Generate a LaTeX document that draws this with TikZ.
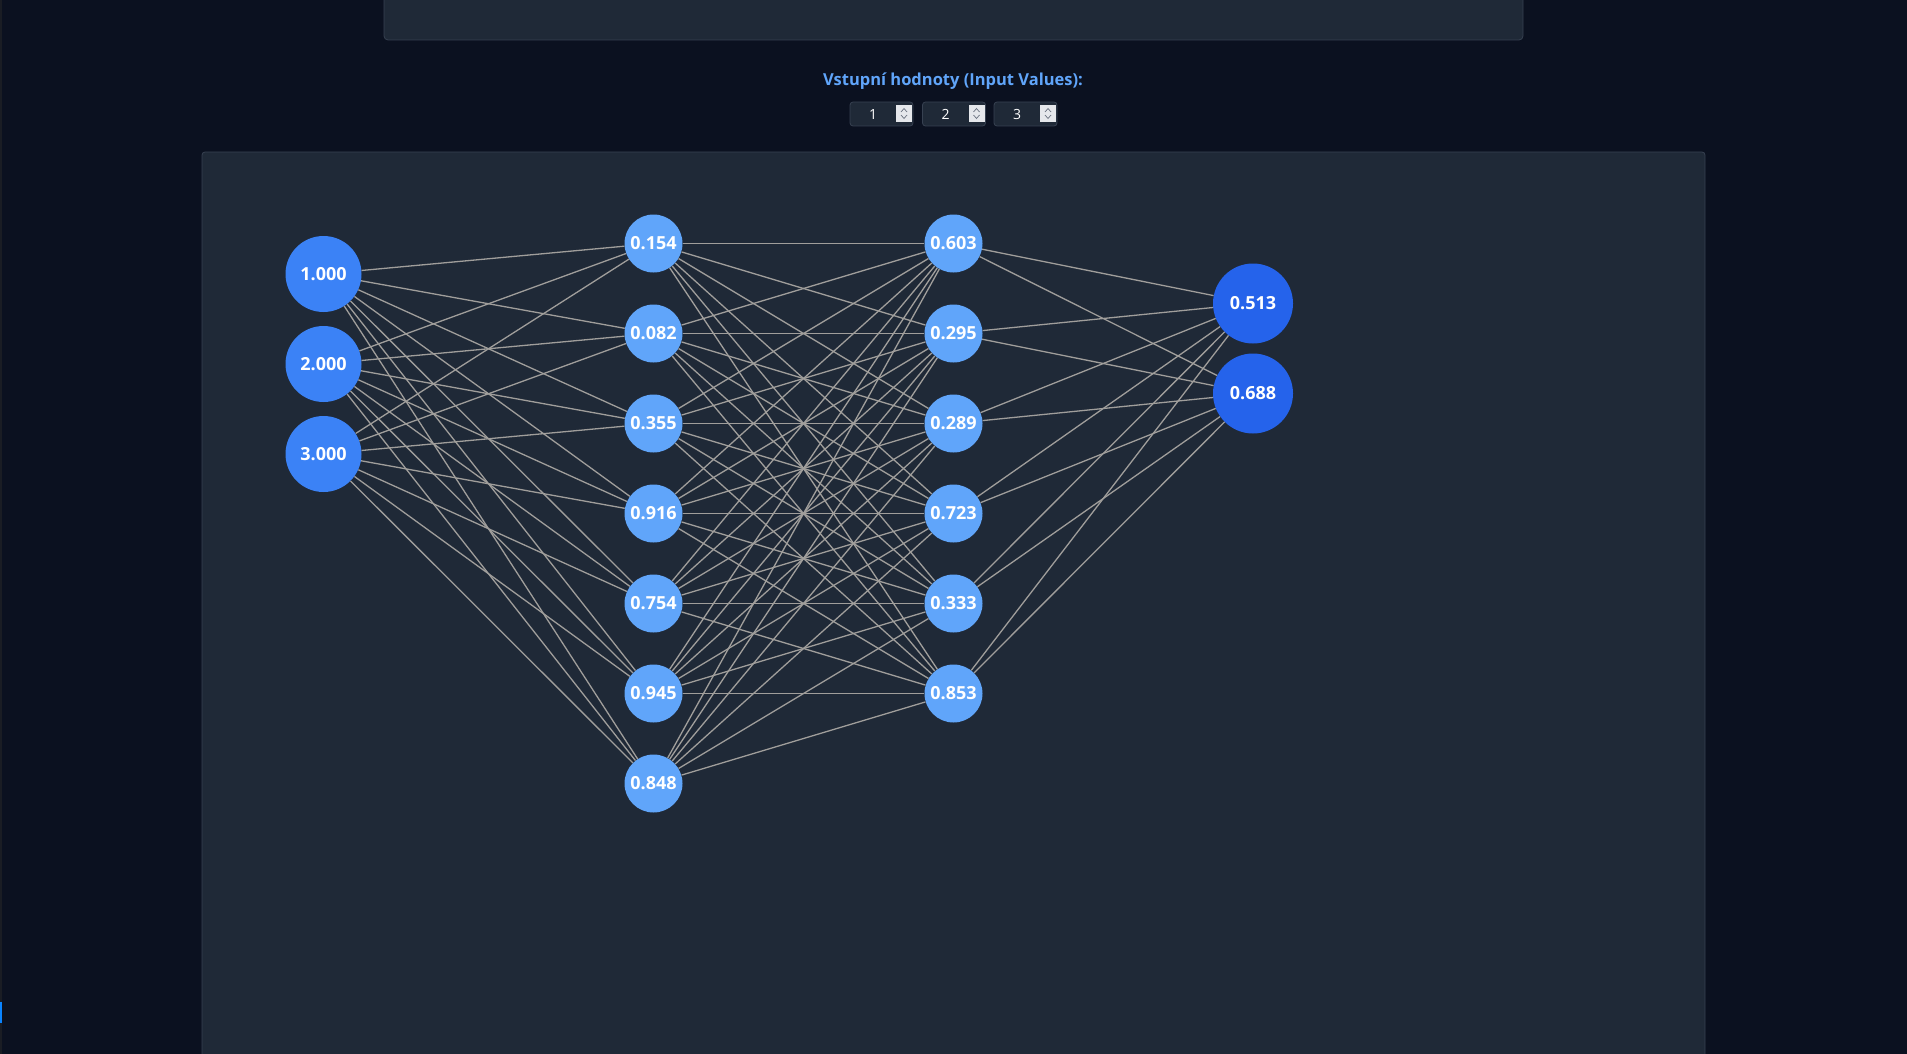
\documentclass[tikz,border=0pt]{standalone}
\usepackage{fontspec}
\setmainfont{Open Sans}
\definecolor{bg}{HTML}{0B1120}
\definecolor{panel}{HTML}{1F2937}
\definecolor{pborder}{HTML}{374151}
\definecolor{inc}{HTML}{3B82F6}
\definecolor{hidc}{HTML}{60A5FA}
\definecolor{outc}{HTML}{2563EB}
\definecolor{edgec}{HTML}{A09E9B}
\definecolor{titlec}{HTML}{60A5FA}
\definecolor{spin}{HTML}{E5E7EB}
\definecolor{chev}{HTML}{6B7280}
\definecolor{stripc}{HTML}{1A1D24}
\definecolor{markc}{HTML}{0A84FF}
\tikzset{
  neuron/.style={circle,inner sep=0pt,text=white,font=\fontsize{18}{20}\selectfont\bfseries},
  innode/.style={neuron,fill=inc,minimum size=76pt},
  hidnode/.style={neuron,fill=hidc,minimum size=58pt},
  outnode/.style={neuron,fill=outc,minimum size=80pt},
  conn/.style={draw=edgec,line width=1.3pt},
  valbox/.style={draw=pborder,fill=panel,rounded corners=3pt,minimum width=63pt,minimum height=24pt,inner sep=0pt,line width=0.8pt},
  valtext/.style={text=white,font=\fontsize{14}{16}\selectfont,inner sep=0pt},
  spinbox/.style={fill=spin,minimum width=16pt,minimum height=17pt,inner sep=0pt},
  chevline/.style={draw=chev,line width=0.7pt}
}
\begin{document}
\begin{tikzpicture}[x=1pt,y=-1pt]
\useasboundingbox (0,0) rectangle (1907,1054);
\fill[bg] (0,0) rectangle (1907,1054);
\begin{scope}
\clip (0,0) rectangle (1907,1054);
\fill[stripc] (0,0) rectangle (2,1054);
\fill[markc] (0,1002) rectangle (2,1023);
\filldraw[fill=panel,draw=pborder,line width=0.8pt,rounded corners=4pt] (384,-10) rectangle (1523,40);
\filldraw[fill=panel,draw=pborder,line width=0.8pt,rounded corners=3pt] (202,152) rectangle (1705,1070);
\end{scope}

\node[text=titlec,font=\fontsize{16.5}{18}\selectfont\bfseries] (title) at (953,81.5) {Vstupní hodnoty (Input Values):};

\foreach \k/\x/\v in {1/881.5/1,2/954/2,3/1025.5/3}{
  \node[valbox] (box\k) at (\x,114) {};
  \node[valtext] (val\k) at (\x-8.5,114.5) {\v};
  \node[spinbox] (spin\k) at (\x+22.5,113.5) {};
  \draw[chevline] ([xshift=-3pt,yshift=-1.5pt]spin\k.center) -- ([yshift=-5pt]spin\k.center) -- ([xshift=3pt,yshift=-1.5pt]spin\k.center);
  \draw[chevline] ([xshift=-3pt,yshift=1.5pt]spin\k.center) -- ([yshift=5pt]spin\k.center) -- ([xshift=3pt,yshift=1.5pt]spin\k.center);
}

% nodes
\node[innode] (i1) at (323.5,274) {1.000};
\node[innode] (i2) at (323.5,364) {2.000};
\node[innode] (i3) at (323.5,454) {3.000};
\foreach \k/\v in {1/0.154,2/0.082,3/0.355,4/0.916,5/0.754,6/0.945,7/0.848}{
  \node[hidnode] (a\k) at (653.5,243.5+90*\k-90) {\v};
}
\foreach \k/\v in {1/0.603,2/0.295,3/0.289,4/0.723,5/0.333,6/0.853}{
  \node[hidnode] (b\k) at (953.5,243.5+90*\k-90) {\v};
}
\node[outnode] (o1) at (1253,303.5) {0.513};
\node[outnode] (o2) at (1253,393.5) {0.688};

% connectors
\foreach \p in {1,2,3}{\foreach \q in {1,...,7}{\draw[conn] (i\p) -- (a\q);}}
\foreach \p in {1,...,7}{\foreach \q in {1,...,6}{\draw[conn] (a\p) -- (b\q);}}
\foreach \p in {1,...,6}{\foreach \q in {1,2}{\draw[conn] (b\p) -- (o\q);}}
\end{tikzpicture}
\end{document}
